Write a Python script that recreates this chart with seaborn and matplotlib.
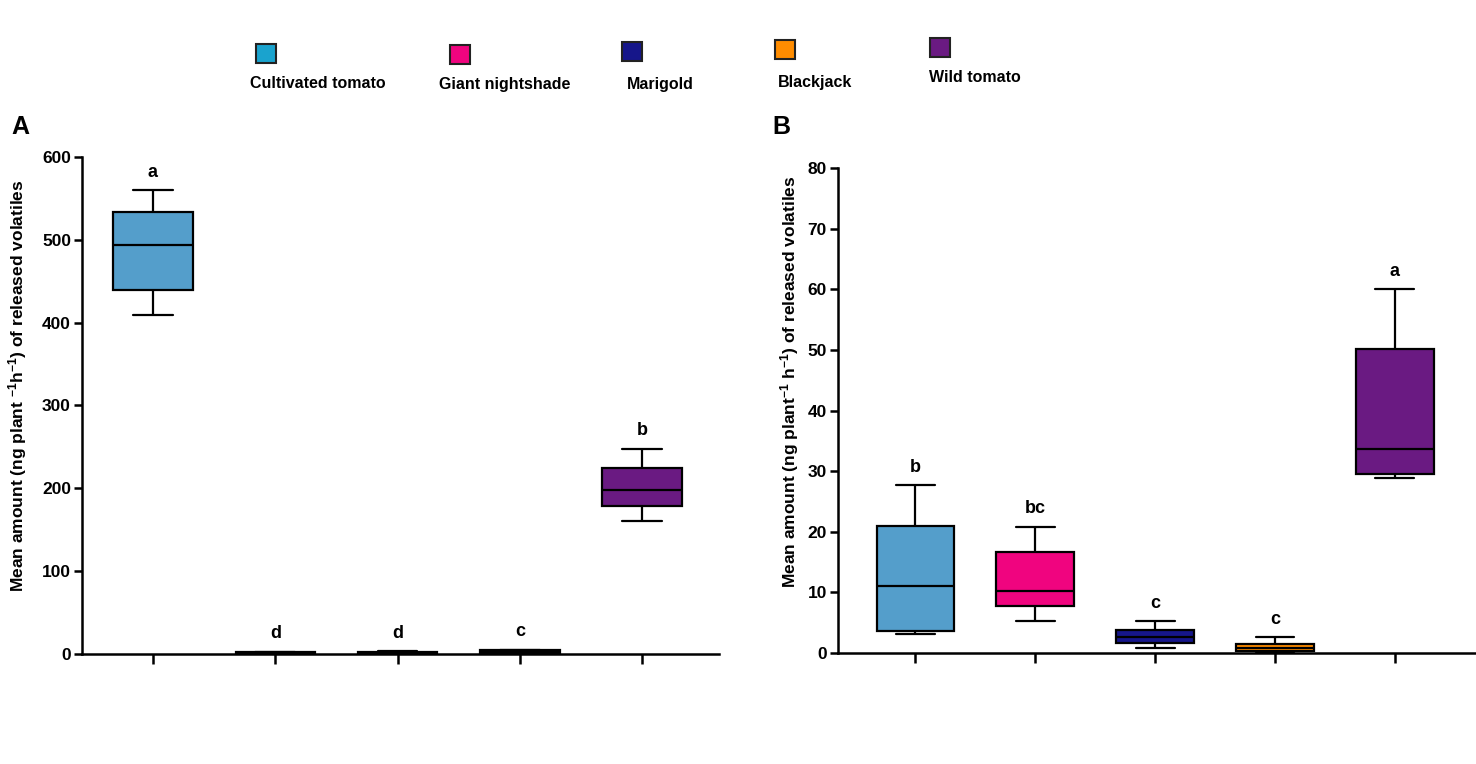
import numpy as np
import pandas as pd
import seaborn as sns
import matplotlib.pyplot as plt
from matplotlib.patches import Rectangle

plants = ['Cultivated tomato', 'Giant nightshade', 'Marigold', 'Blackjack', 'Wild tomato']
box_colors = ['#549ECB', '#F0047F', '#16168A', '#FF8C00', '#6A1A82']
legend_colors = ['#1AA3CE', '#F0047F', '#16168A', '#FF8C00', '#6A1A82']

# five-number summaries: min, q1, median, q3, max
# panel A
a_cultivated = [409, 439, 494, 534, 560]
a_nightshade = [0.2, 0.5, 1.2, 2.4, 2.8]
a_marigold = [0.3, 0.6, 1.4, 2.6, 3.0]
a_blackjack = [0.8, 1.2, 2.8, 4.5, 5.0]
a_wild = [161, 179, 198, 224, 248]
letters_a = ['a', 'd', 'd', 'c', 'b']

# panel B
b_cultivated = [3.1, 3.7, 11.0, 21.0, 27.7]
b_nightshade = [5.2, 7.7, 10.3, 16.7, 20.8]
b_marigold = [0.9, 1.7, 2.7, 3.8, 5.2]
b_blackjack = [0.0, 0.4, 0.9, 1.5, 2.6]
b_wild = [28.9, 29.5, 33.6, 50.1, 60.0]
letters_b = ['b', 'bc', 'c', 'c', 'a']

ylabel_a = r'Mean amount (ng plant $^{-1}$h$^{-1}$) of released volatiles'
ylabel_b = r'Mean amount (ng plant$^{-1}$ h$^{-1}$) of released volatiles'


def long_df(groups):
    rows = []
    for name, vals in zip(plants, groups):
        for v in vals:
            rows.append({'plant': name, 'value': v})
    return pd.DataFrame(rows)


sns.set_style('ticks')
plt.rcParams['font.family'] = ['Liberation Sans', 'DejaVu Sans']
plt.rcParams['font.weight'] = 'bold'
plt.rcParams['text.color'] = 'black'
plt.rcParams['axes.labelcolor'] = 'black'
plt.rcParams['axes.edgecolor'] = 'black'
plt.rcParams['xtick.color'] = 'black'
plt.rcParams['ytick.color'] = 'black'
plt.rcParams['mathtext.fontset'] = 'custom'
plt.rcParams['mathtext.rm'] = 'Liberation Sans:bold'
plt.rcParams['mathtext.default'] = 'rm'

fig = plt.figure(figsize=(14.76, 7.64), dpi=100)
ax_a = fig.add_axes([0.0556, 0.1440, 0.4316, 0.6505])
ax_b = fig.add_axes([0.5678, 0.1453, 0.4316, 0.6344])

panels = [
    (ax_a, [a_cultivated, a_nightshade, a_marigold, a_blackjack, a_wild], letters_a,
     (0, 600), np.arange(0, 601, 100), (-0.58, 4.63), ylabel_a, (-0.083, 0.54)),
    (ax_b, [b_cultivated, b_nightshade, b_marigold, b_blackjack, b_wild], letters_b,
     (0, 80), np.arange(0, 81, 10), (-0.646, 4.67), ylabel_b, (-0.058, 0.56)),
]

for ax, groups, letters, ylim, yticks, xlim, ylab, labpos in panels:
    df = long_df(groups)
    sns.boxplot(data=df, x='plant', y='value', hue='plant', order=plants, hue_order=plants,
                palette=box_colors, width=0.65, whis=(0, 100), linewidth=1.6,
                linecolor='black', saturation=1, legend=False, ax=ax)
    for i, (vals, letter) in enumerate(zip(groups, letters)):
        ax.annotate(letter, xy=(i, max(vals)), xytext=(0, 13), textcoords='offset points',
                    ha='center', va='center', fontsize=13, fontweight='bold')
    ax.set_ylim(*ylim)
    ax.set_xlim(*xlim)
    ax.set_yticks(yticks)
    ax.set_xticklabels([])
    ax.set_xlabel('')
    ax.set_ylabel(ylab, fontsize=12.5, fontweight='bold')
    ax.yaxis.set_label_coords(*labpos)
    for side in ['top', 'right']:
        ax.spines[side].set_visible(False)
    for side in ['left', 'bottom']:
        ax.spines[side].set_linewidth(1.8)
    ax.tick_params(axis='y', length=6, width=1.8, labelsize=12.5, pad=2)
    ax.tick_params(axis='x', length=7, width=1.8, direction='out')
    for lab in ax.get_yticklabels():
        lab.set_fontweight('bold')

fig.text(0.008, 1 - 127 / 764, 'A', fontsize=18, fontweight='bold', va='center')
fig.text(0.523, 1 - 127 / 764, 'B', fontsize=18, fontweight='bold', va='center')

# legend: coloured squares with plant names under them
sq_x = [256, 450, 622, 775, 930]
sq_y = [44, 45, 42, 40, 38]
lab_x = [318, 505, 660, 815, 975]
lab_y = [84, 85, 85, 83, 78]
for name, col, sx, sy, lx, ly in zip(plants, legend_colors, sq_x, sq_y, lab_x, lab_y):
    fig.add_artist(Rectangle((sx / 1476, 1 - (sy + 19) / 764), 20 / 1476, 19 / 764,
                             transform=fig.transFigure, facecolor=col,
                             edgecolor='#222222', linewidth=1.5))
    fig.text(lx / 1476, 1 - ly / 764, name, ha='center', va='center',
             fontsize=11.5, fontweight='bold')

fig.savefig('out.png', dpi=100)
